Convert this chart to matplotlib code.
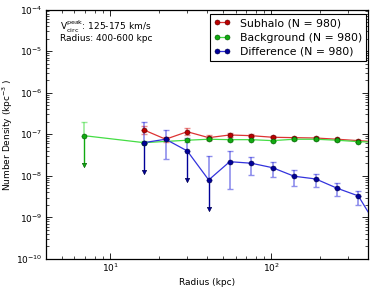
import numpy as np
import matplotlib
matplotlib.use("Agg")
import matplotlib.pyplot as plt

# ---- data ----
radius = [6.9, 16.2, 22.1, 30.1, 40.9, 55.2, 75.2, 101.8, 138.7, 188.8, 255.9, 346.8, 470.0]

sub_y  = [np.nan, 1.27e-7, 7.59e-8, 1.15e-7, 8.28e-8, 9.61e-8, 9.24e-8, 8.47e-8, 8.28e-8, 8.12e-8, 7.59e-8, 7.02e-8, 6.53e-8]
sub_hi = [np.nan, 1.55e-7, 8.8e-8, 1.39e-7, 9.4e-8, 1.05e-7, 9.9e-8, 9.0e-8, 8.7e-8, 8.5e-8, 7.9e-8, 7.3e-8, 6.8e-8]
sub_lo = [np.nan, 1.02e-7, 6.5e-8, 9.6e-8, 7.3e-8, 8.8e-8, 8.6e-8, 8.0e-8, 7.9e-8, 7.8e-8, 7.3e-8, 6.8e-8, 6.3e-8]

bg_y  = [9.24e-8, 6.28e-8, np.nan, 7.18e-8, 7.59e-8, 7.41e-8, 7.41e-8, 7.02e-8, 7.59e-8, 7.59e-8, 7.18e-8, 6.64e-8, 6.4e-8]
bg_hi = [1.94e-7, 6.9e-8, np.nan, 7.9e-8, 8.1e-8, 7.8e-8, 7.7e-8, 7.3e-8, 7.8e-8, 7.8e-8, 7.4e-8, 6.8e-8, 6.55e-8]
bg_lo = [np.nan, 5.7e-8, np.nan, 6.5e-8, 7.1e-8, 7.0e-8, 7.1e-8, 6.75e-8, 7.35e-8, 7.35e-8, 6.95e-8, 6.45e-8, 6.25e-8]

diff_y  = [np.nan, 6.28e-8, 7.59e-8, 3.97e-8, 7.96e-9, 2.19e-8, 2.01e-8, 1.57e-8, 9.77e-9, 8.41e-9, 5.04e-9, 3.29e-9, 4.8e-10]
diff_hi = [np.nan, 1.94e-7, 1.25e-7, 8.0e-8, 3.06e-8, 3.97e-8, 2.9e-8, 2.19e-8, 1.39e-8, 1.09e-8, 6.64e-9, 4.33e-9, 8.0e-10]
diff_lo = [np.nan, np.nan, 2.55e-8, np.nan, np.nan, 4.84e-9, 1.05e-8, 9.4e-9, 5.71e-9, 5.5e-9, 3.29e-9, 2.0e-9, 2.0e-10]

labels = ["Subhalo (N = 980)", "Background (N = 980)", "Difference (N = 980)"]
xticks = [10, 100]
yticks = [1e-10, 1e-9, 1e-8, 1e-7, 1e-6, 1e-5, 1e-4]

# ---- styles ----
line_cols = ["#dd3333", "#44dd44", "#3333dd"]
mark_cols = ["#bb0000", "#11aa11", "#000099"]
edge_cols = ["#550000", "#005500", "#000044"]

fig = plt.figure(figsize=(3.74, 2.91), dpi=100)
ax = fig.add_axes([46/374, 1-259/291, (368.3-46)/374, (259-9.5)/291])

x = np.array(radius)
series = [(sub_y, sub_hi, sub_lo), (bg_y, bg_hi, bg_lo), (diff_y, diff_hi, diff_lo)]
handles = []
for (yv, hi, lo), lc, mc, ec, lab in zip(series, line_cols, mark_cols, edge_cols, labels):
    y = np.array(yv, float); hi = np.array(hi, float); lo = np.array(lo, float)
    ok = ~np.isnan(y)
    ax.errorbar(x[ok], y[ok], yerr=[np.zeros(ok.sum()), hi[ok]-y[ok]], fmt='none',
                ecolor=lc, alpha=0.55, capsize=2.2, elinewidth=1.2, capthick=1.0, zorder=2)
    has_lo = ok & ~np.isnan(lo)
    ax.errorbar(x[has_lo], y[has_lo], yerr=[y[has_lo]-lo[has_lo], np.zeros(has_lo.sum())], fmt='none',
                ecolor=lc, alpha=0.55, capsize=2.2, elinewidth=1.2, capthick=1.0, zorder=2)
    lim = ok & np.isnan(lo)
    for xi, yi in zip(x[lim], y[lim]):
        ax.plot([xi, xi], [yi, yi/5.0], color=mc, lw=1.0, zorder=2)
    ax.plot(x[lim], y[lim]/5.0, 'v', color=mc, ms=3.2, mec=ec, mew=0.4, zorder=3)
    h, = ax.plot(x[ok], y[ok], '-o', color=lc, lw=0.9, ms=3.6, mfc=mc, mec=ec, mew=0.4,
                 label=lab, zorder=4)
    handles.append(h)

ax.set_xscale('log'); ax.set_yscale('log')
ax.set_xlim(4, 400); ax.set_ylim(1e-10, 1e-4)
ax.set_xticks(xticks); ax.set_yticks(yticks)
ax.tick_params(which='both', direction='in', top=True, right=True, labelsize=6.5)
ax.tick_params(axis='x', pad=2)
ax.tick_params(axis='y', pad=2.5)
ax.tick_params(which='major', length=4, width=0.6)
ax.tick_params(which='minor', length=2, width=0.5)
for s in ax.spines.values():
    s.set_linewidth(0.9)
ax.set_xlabel("Radius (kpc)", fontsize=6.5, labelpad=3)
ax.set_ylabel("Number Density (kpc$^{-3}$ )", fontsize=6.5, labelpad=1)

ax.text(0.044, 0.93, r"V$_{\rm circ}^{\rm peak}$: 125-175 km/s", transform=ax.transAxes,
        fontsize=6.5, va='center', ha='left')
ax.text(0.044, 0.885, "Radius: 400-600 kpc", transform=ax.transAxes,
        fontsize=6.5, va='center', ha='left')

leg = ax.legend(handles=handles, loc='upper right', bbox_to_anchor=(0.993, 0.98),
                fontsize=7.8, numpoints=2, handlelength=1.5, handletextpad=0.9,
                borderpad=0.35, labelspacing=0.4, borderaxespad=0.0,
                fancybox=False, framealpha=1, edgecolor='black')
leg.get_frame().set_linewidth(0.8)

fig.savefig("out.png", dpi=100)
